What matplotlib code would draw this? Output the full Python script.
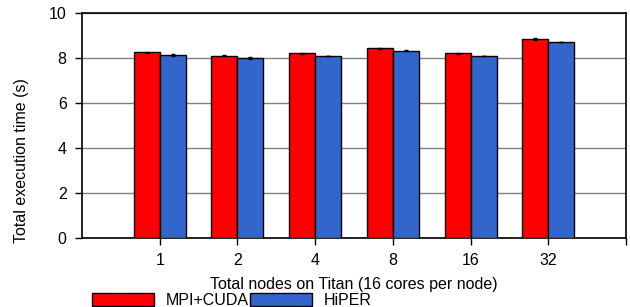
import numpy as np
import matplotlib
matplotlib.use("Agg")
import matplotlib.pyplot as plt
from matplotlib.patches import Patch

plt.rcParams["font.family"] = ["Liberation Sans", "DejaVu Sans"]

nodes = ["1", "2", "4", "8", "16", "32"]
mpi_cuda = [8.25, 8.10, 8.21, 8.43, 8.21, 8.83]
hiper = [8.13, 8.00, 8.09, 8.33, 8.09, 8.71]
mpi_err = [0.02, 0.02, 0.02, 0.03, 0.02, 0.04]
hiper_err = [0.03, 0.03, 0.02, 0.03, 0.02, 0.02]

RED = "#ff0000"
BLUE = "#3366cc"
FS = 11.5

fig = plt.figure(figsize=(6.3, 3.07), dpi=100)
ax = fig.add_axes([82 / 630, 1 - 238 / 307, 544 / 630, 225 / 307])

x = np.arange(len(nodes))
w = 0.335
ax.bar(x - w / 2, mpi_cuda, w, yerr=mpi_err, color=RED, edgecolor="black",
       linewidth=1.0, error_kw=dict(ecolor="black", elinewidth=0.8, capsize=1.5),
       zorder=3, label="MPI+CUDA")
ax.bar(x + w / 2, hiper, w, yerr=hiper_err, color=BLUE, edgecolor="black",
       linewidth=1.0, error_kw=dict(ecolor="black", elinewidth=0.8, capsize=1.5),
       zorder=3, label="HiPER")

ax.set_xlim(-1, 6)
ax.set_ylim(0, 10)
ax.set_yticks([0, 2, 4, 6, 8, 10])
ax.set_xticks(list(x) + [6])
ax.set_xticklabels(nodes + [""])
ax.yaxis.grid(True, color="#808080", linewidth=1.0, zorder=0)
ax.set_axisbelow(True)
ax.tick_params(axis="both", labelsize=FS, length=5, width=1.0, direction="out", pad=6)
for s in ax.spines.values():
    s.set_linewidth(1.2)
    s.set_color("black")

ax.set_ylabel("Total execution time (s)", fontsize=FS)
ax.yaxis.set_label_coords(-0.097, 0.345)
ax.set_xlabel("Total nodes on Titan (16 cores per node)", fontsize=FS, labelpad=6)

handles = [Patch(facecolor=RED, edgecolor="black", label="MPI+CUDA"),
           Patch(facecolor=BLUE, edgecolor="black", label="HiPER")]
fig.legend(handles=handles, loc="upper left", bbox_to_anchor=(92 / 630, 1 - 293 / 307),
           ncol=2, frameon=False, fontsize=FS, handlelength=3.9, handleheight=0.9,
           handletextpad=0.7, columnspacing=0.1, borderpad=0, borderaxespad=0)

fig.savefig("out.png", dpi=100)
